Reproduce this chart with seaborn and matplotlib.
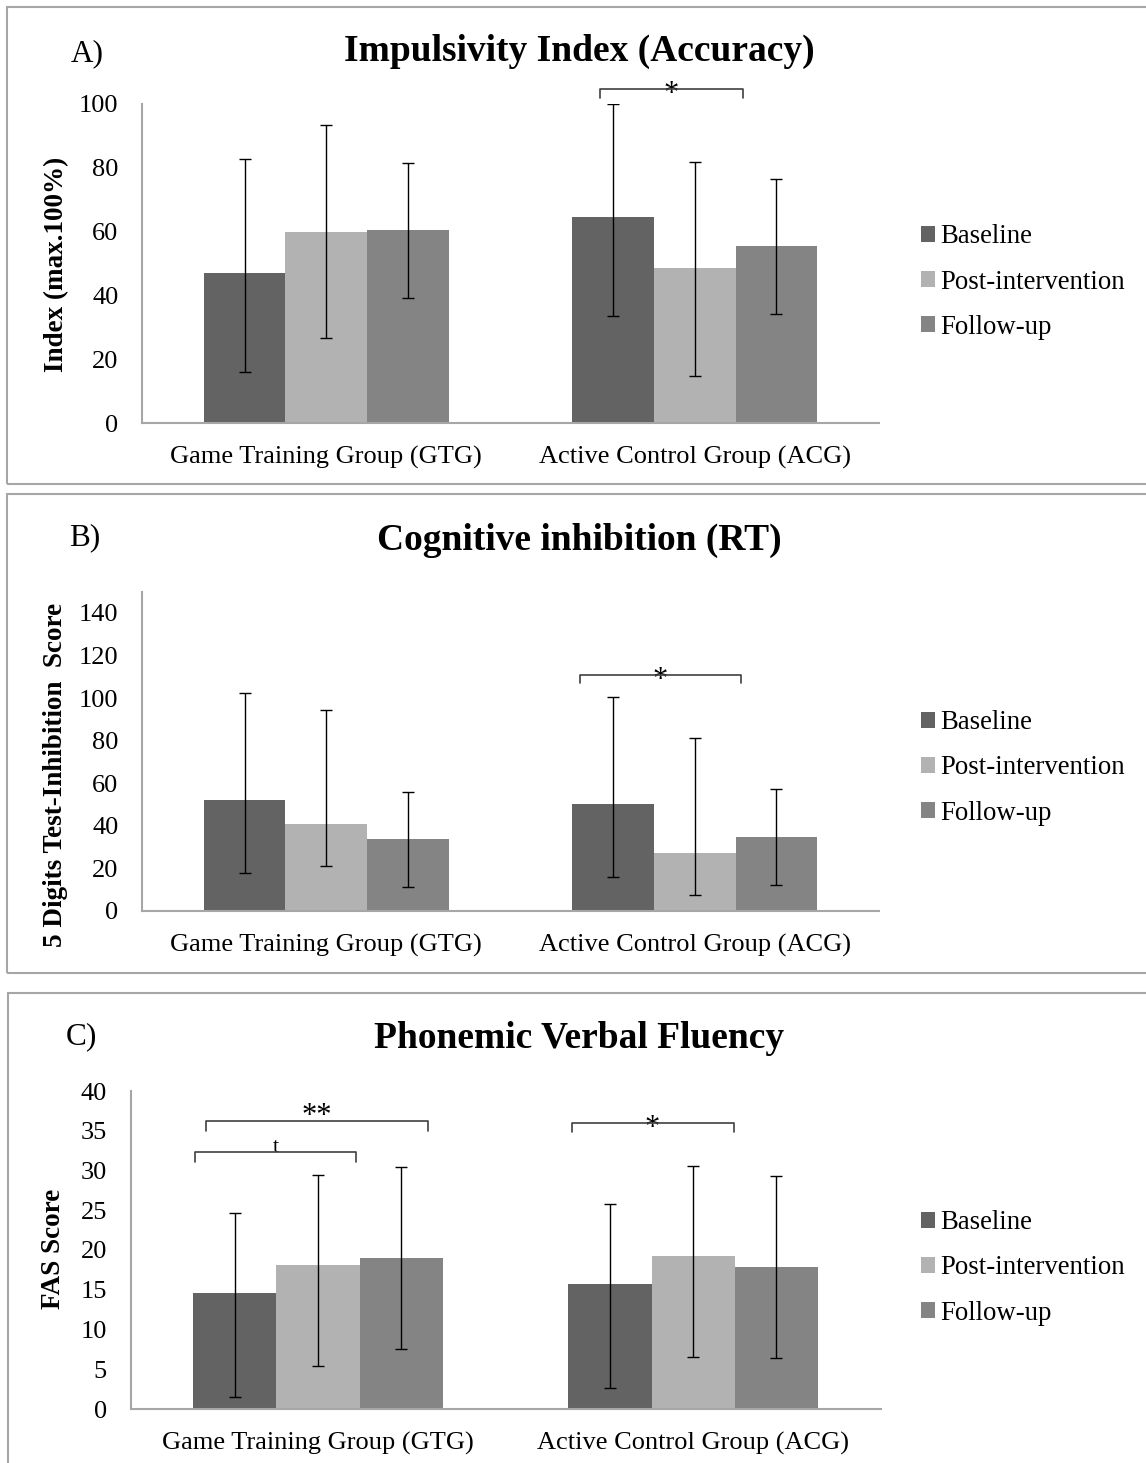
import matplotlib
matplotlib.use("Agg")
import matplotlib.pyplot as plt
from matplotlib.patches import Patch, Rectangle
import seaborn as sns
import pandas as pd

# ---------------- data ----------------
groups = ["Game Training Group (GTG)", "Active Control Group (ACG)"]
timepoints = ["Baseline", "Post-intervention", "Follow-up"]
colors = ["#636363", "#b2b2b2", "#848484"]

# Panel A: Impulsivity Index (Accuracy)  -- rows: timepoints, cols: groups
a_mean = [[47.0, 64.5], [60.0, 48.6], [60.5, 55.5]]
a_high = [[82.8, 100.1], [93.4, 81.9], [81.6, 76.6]]
a_low = [[16.0, 33.5], [26.5, 14.8], [39.3, 34.3]]

# Panel B: Cognitive inhibition (RT)
b_mean = [[52.0, 50.4], [40.7, 27.2], [33.5, 34.5]]
b_high = [[102.4, 100.5], [94.4, 81.1], [55.9, 57.0]]
b_low = [[17.8, 16.0], [20.9, 7.5], [11.1, 11.9]]

# Panel C: Phonemic Verbal Fluency
c_mean = [[14.55, 15.7], [18.07, 19.3], [19.0, 17.9]]
c_high = [[24.7, 25.8], [29.4, 30.6], [30.4, 29.3]]
c_low = [[1.55, 2.6], [5.4, 6.6], [7.6, 6.45]]

titles = ["Impulsivity Index (Accuracy)", "Cognitive inhibition (RT)", "Phonemic Verbal Fluency"]
panel_tags = ["A)", "B)", "C)"]
ylabels = ["Index (max.100%)", "5 Digits Test-Inhibition  Score", "FAS Score"]
yticks_list = [list(range(0, 101, 20)), list(range(0, 141, 20)), list(range(0, 41, 5))]
ylims = [100, 150, 40]

# significance brackets: (x0, x1, y_line, y_tick_end, label)
a_sig = [(0.743, 1.131, 104.7, 101.8, "*")]
b_sig = [(0.6875, 1.1255, 111.0, 107.0, "*")]
c_sig = [(-0.2986, 0.2933, 36.2, 35.0, "**"),
         (-0.328, 0.101, 32.3, 31.1, "t"),
         (0.676, 1.108, 36.0, 34.8, "*")]

# ---------------- style ----------------
sns.set_style("white")
plt.rcParams["font.family"] = ["Liberation Serif", "DejaVu Serif"]
plt.rcParams["text.color"] = "black"
plt.rcParams["axes.labelcolor"] = "black"
plt.rcParams["xtick.color"] = "black"
plt.rcParams["ytick.color"] = "black"

W, H = 1146, 1463
fig = plt.figure(figsize=(W / 100, H / 100), dpi=100)


def rect(l, r, top, bottom):
    return [l / W, 1 - bottom / H, (r - l) / W, (bottom - top) / H]


axes_rects = [rect(142, 879, 104, 423), rect(142, 879, 591.7, 910.7), rect(130.5, 880.7, 1091, 1409)]
boxes = [(7, 7, 1160, 484), (7, 494, 1160, 972.7), (8, 993, 1160, 1480)]
title_y = [51, 540, 1038]
tag_pos = [(87, 54), (85, 538), (81, 1037)]
ylabel_pos = [(57, 264), (56, 775), (54, 1249)]
legend_y = [282, 768, 1268]

means = [a_mean, b_mean, c_mean]
highs = [a_high, b_high, c_high]
lows = [a_low, b_low, c_low]
sigs = [a_sig, b_sig, c_sig]

BOX_COLOR = "#a6a6a6"
TICK_FS = 19
LEG_FS = 19.3

for k in range(3):
    # panel frame
    x0, y0, x1, y1 = boxes[k]
    fig.patches.append(Rectangle((x0 / W, 1 - y1 / H), (x1 - x0) / W, (y1 - y0) / H,
                                 transform=fig.transFigure, fill=False,
                                 edgecolor=BOX_COLOR, linewidth=1.5, zorder=0))

    ax = fig.add_axes(axes_rects[k])
    rows = []
    for t, tp in enumerate(timepoints):
        for g, grp in enumerate(groups):
            rows.append({"group": grp, "time": tp, "value": means[k][t][g]})
    df = pd.DataFrame(rows)
    sns.barplot(data=df, x="group", y="value", hue="time", order=groups,
                hue_order=timepoints, palette=colors, width=0.665,
                errorbar=None, saturation=1, legend=False, ax=ax,
                edgecolor="none", linewidth=0)

    bar_containers = list(ax.containers)
    # asymmetric error bars at the bar centres
    for t, cont in enumerate(bar_containers):
        for g, bar in enumerate(cont.patches):
            xc = bar.get_x() + bar.get_width() / 2
            m = means[k][t][g]
            ax.errorbar(xc, m, yerr=[[m - lows[k][t][g]], [highs[k][t][g] - m]],
                        fmt="none", ecolor="black", elinewidth=1.0,
                        capsize=4.5, capthick=1.0, zorder=5)

    ax.set_xlim(-0.5, 1.5)
    ax.set_ylim(0, ylims[k])
    ax.set_yticks(yticks_list[k])
    ax.set_xlabel("")
    ax.set_ylabel("")
    ax.tick_params(axis="both", length=0, labelsize=TICK_FS, colors="black")
    ax.tick_params(axis="y", pad=17)
    ax.tick_params(axis="x", pad=16.5)
    for s in ["top", "right"]:
        ax.spines[s].set_visible(False)
    for s in ["left", "bottom"]:
        ax.spines[s].set_color(BOX_COLOR)
        ax.spines[s].set_linewidth(1.5)

    # brackets
    for (bx0, bx1, by, byt, lab) in sigs[k]:
        ax.plot([bx0, bx0, bx1, bx1], [byt, by, by, byt], color="#404040",
                linewidth=1.2, clip_on=False, zorder=6)
        xm = (bx0 + bx1) / 2
        if lab == "t":
            ax.annotate(lab, xy=(xm, by), xytext=(0, 0.5), textcoords="offset points",
                        ha="center", va="baseline", fontsize=16, annotation_clip=False)
        elif lab == "**":
            ax.annotate(lab, xy=(xm, by), xytext=(0, -2), textcoords="offset points",
                        ha="center", va="baseline", fontsize=22, annotation_clip=False)
        else:
            ax.annotate(lab, xy=(xm, by), xytext=(0, -9.5), textcoords="offset points",
                        ha="center", va="baseline", fontsize=22, annotation_clip=False)

    # legend
    handles = [Patch(facecolor=c, edgecolor="none") for c in colors]
    ax.legend(handles, timepoints, loc="center left",
              bbox_to_anchor=(921 / W, 1 - legend_y[k] / H),
              bbox_transform=fig.transFigure, frameon=False, fontsize=LEG_FS,
              handlelength=0.52, handleheight=0.52, handletextpad=0.2,
              labelspacing=0.75, borderpad=0, borderaxespad=0)

    # titles and labels
    fig.text(579 / W, 1 - title_y[k] / H, titles[k], ha="center", va="center",
             fontsize=27, fontweight="bold")
    fig.text(tag_pos[k][0] / W, 1 - tag_pos[k][1] / H, panel_tags[k], ha="center",
             va="center", fontsize=22.5)
    fig.text(ylabel_pos[k][0] / W, 1 - ylabel_pos[k][1] / H, ylabels[k], ha="center",
             va="center", rotation=90, fontsize=19.5, fontweight="bold")

fig.savefig("out.png", dpi=100, facecolor="white")
